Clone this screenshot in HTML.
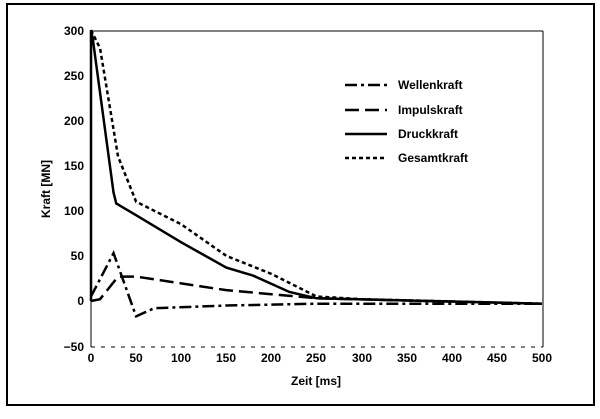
<!DOCTYPE html>
<html><head><style>
body{margin:0;background:#fff;}
svg text{font-family:"Liberation Sans Narrow","Liberation Sans",sans-serif;font-weight:bold;fill:#000;}
</style></head><body>
<svg width="600" height="414" viewBox="0 0 600 414">
<rect x="7" y="4" width="587" height="401" fill="none" stroke="#000" stroke-width="2"/>
<line x1="91" y1="31" x2="543" y2="31" stroke="#000" stroke-width="1"/>
<line x1="543" y1="31" x2="543" y2="347" stroke="#000" stroke-width="1"/>
<line x1="91" y1="31" x2="91" y2="347" stroke="#000" stroke-width="1"/>
<line x1="91" y1="347" x2="543" y2="347" stroke="#000" stroke-width="1" stroke-dasharray="4,6"/>
<g font-size="12" text-anchor="end">
<text x="84" y="35">300</text><text x="84" y="80">250</text><text x="84" y="125">200</text>
<text x="84" y="170">150</text><text x="84" y="215">100</text><text x="84" y="260">50</text>
<text x="84" y="305">0</text><text x="84" y="351">−50</text>
</g>
<g font-size="12" text-anchor="middle">
<text x="91" y="362">0</text><text x="136" y="362">50</text><text x="181" y="362">100</text>
<text x="226" y="362">150</text><text x="271" y="362">200</text><text x="316" y="362">250</text>
<text x="362" y="362">300</text><text x="407" y="362">350</text><text x="452" y="362">400</text>
<text x="497" y="362">450</text><text x="542" y="362">500</text>
</g>
<text x="316" y="385" font-size="12" text-anchor="middle">Zeit [ms]</text>
<text transform="translate(50,189) rotate(-90)" font-size="12" text-anchor="middle">Kraft [MN]</text>
<g transform="translate(91,301) scale(0.902,-0.903)" fill="none" stroke="#000">
<polyline vector-effect="non-scaling-stroke" stroke-width="2.5" points="0,0 0,300 2,290 25,120 28,108 50,95 100,65 150,37 180,28 220,10 250,3 500,-3"/>
<polyline vector-effect="non-scaling-stroke" stroke-width="2.5" stroke-dasharray="4,3" points="0,300 10,280 30,160 50,110 100,85 150,50 200,30 250,5 300,2 500,-3"/>
<polyline vector-effect="non-scaling-stroke" stroke-width="2.5" stroke-dasharray="14,6" points="0,0 10,2 30,27 50,27 150,12 250,3 500,-3"/>
<polyline vector-effect="non-scaling-stroke" stroke-width="2.5" stroke-dasharray="12,4,3,4" points="0,5 25,53 50,-17 70,-8 150,-5 250,-3 500,-3"/>
</g>
<g stroke="#000" stroke-width="2.5">
<line x1="345" y1="85" x2="387" y2="85" stroke-dasharray="12,4,3,4"/>
<line x1="345" y1="110" x2="387" y2="110" stroke-dasharray="14,6"/>
<line x1="345" y1="134" x2="387" y2="134"/>
<line x1="345" y1="158" x2="387" y2="158" stroke-dasharray="4,3"/>
</g>
<g font-size="12">
<text x="398" y="89">Wellenkraft</text><text x="398" y="114">Impulskraft</text>
<text x="398" y="138">Druckkraft</text><text x="398" y="162">Gesamtkraft</text>
</g>
</svg>
</body></html>
